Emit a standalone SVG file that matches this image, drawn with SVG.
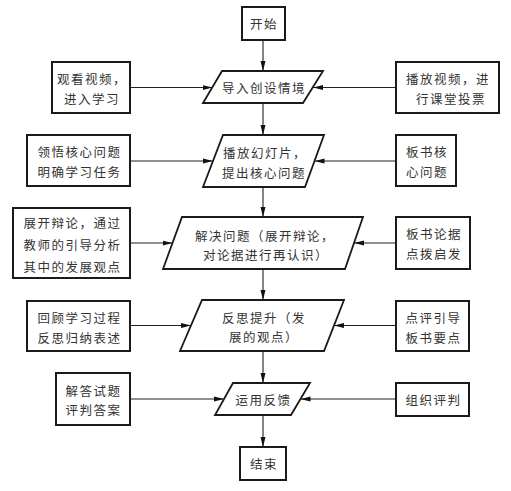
<svg xmlns="http://www.w3.org/2000/svg" width="511" height="491" viewBox="0 0 511 491">
<style>
.box{fill:#fff;stroke:#1a1a1a;stroke-width:2}
.para{fill:#fff;stroke:#1a1a1a;stroke-width:1.8}
.conn line{stroke:#222;stroke-width:1.1}
text{font-family:"Noto Sans CJK SC","Noto Sans CJK JP",sans-serif;font-size:12.5px;letter-spacing:1.5px;fill:#333;text-anchor:middle;dominant-baseline:central}
</style>
<defs>
<marker id="ah" markerUnits="userSpaceOnUse" markerWidth="10" markerHeight="6" refX="10" refY="3" orient="auto">
<path d="M0,0.5 L10,3 L0,5.5 z" fill="#111"/>
</marker>
</defs>
<rect width="511" height="491" fill="#fff"/>
<g class="conn">
<line x1="263" y1="40" x2="263" y2="71" marker-end="url(#ah)"/>
<line x1="263" y1="103" x2="263" y2="135" marker-end="url(#ah)"/>
<line x1="263" y1="187" x2="263" y2="217" marker-end="url(#ah)"/>
<line x1="263" y1="269" x2="263" y2="300" marker-end="url(#ah)"/>
<line x1="263" y1="351" x2="263" y2="383" marker-end="url(#ah)"/>
<line x1="263" y1="415" x2="263" y2="447" marker-end="url(#ah)"/>
<line x1="130" y1="87.5" x2="212.5" y2="87.5" marker-end="url(#ah)"/>
<line x1="130" y1="161" x2="213" y2="161" marker-end="url(#ah)"/>
<line x1="130" y1="243" x2="172.5" y2="243" marker-end="url(#ah)"/>
<line x1="130" y1="325.5" x2="191" y2="325.5" marker-end="url(#ah)"/>
<line x1="130" y1="399" x2="224" y2="399" marker-end="url(#ah)"/>
<line x1="396" y1="87.5" x2="313" y2="87.5" marker-end="url(#ah)"/>
<line x1="396" y1="161" x2="314.5" y2="161" marker-end="url(#ah)"/>
<line x1="396" y1="243" x2="354" y2="243" marker-end="url(#ah)"/>
<line x1="396" y1="325.5" x2="334" y2="325.5" marker-end="url(#ah)"/>
<line x1="396" y1="399" x2="300.5" y2="399" marker-end="url(#ah)"/>
</g>
<g id="start"><rect class="box" x="242" y="7" width="43" height="33"/><text x="264" y="23.5">开始</text></g>
<g id="p1"><polygon class="para" points="222,71 323,71 303,103 203,103"/><text x="264" y="87.5">导入创设情境</text></g>
<g id="l1"><rect class="box" x="52" y="62" width="78" height="51"/><text x="92" y="78">观看视频，</text><text x="92" y="98">进入学习</text></g>
<g id="r1"><rect class="box" x="396" y="62" width="103" height="51"/><text x="448" y="78">播放视频，进</text><text x="451" y="98">行课堂投票</text></g>
<g id="p2"><polygon class="para" points="223,135 324,135 305,187 203,187"/><text x="265" y="152">播放幻灯片，</text><text x="264" y="172">提出核心问题</text></g>
<g id="l2"><rect class="box" x="27" y="135" width="103" height="51"/><text x="79.5" y="151">领悟核心问题</text><text x="79.5" y="171">明确学习任务</text></g>
<g id="r2"><rect class="box" x="396" y="135" width="60" height="51"/><text x="427" y="151">板书核</text><text x="427" y="171">心问题</text></g>
<g id="p3"><polygon class="para" points="182,217 363,217 345,269 163,269"/><text x="265" y="235">解决问题（展开辩论，</text><text x="266" y="254">对论据进行再认识）</text></g>
<g id="l3"><rect class="box" x="13" y="208" width="117" height="70"/><text x="72.5" y="222">展开辩论，通过</text><text x="72.5" y="244">教师的引导分析</text><text x="72.5" y="266">其中的发展观点</text></g>
<g id="r3"><rect class="box" x="396" y="217" width="74" height="52"/><text x="434" y="233">板书论据</text><text x="434" y="253">点拨启发</text></g>
<g id="p4"><polygon class="para" points="202,300 344,300 324,351 180,351"/><text x="264" y="317">反思提升（发</text><text x="264" y="336">展的观点）</text></g>
<g id="l4"><rect class="box" x="27" y="301" width="103" height="50"/><text x="79.5" y="317">回顾学习过程</text><text x="79.5" y="337">反思归纳表述</text></g>
<g id="r4"><rect class="box" x="396" y="301" width="73" height="50"/><text x="433.5" y="317">点评引导</text><text x="433.5" y="337">板书要点</text></g>
<g id="p5"><polygon class="para" points="233,383 310,383 291,415 215,415"/><text x="263.5" y="399">运用反馈</text></g>
<g id="l5"><rect class="box" x="56" y="373" width="74" height="52"/><text x="93.5" y="390">解答试题</text><text x="93.5" y="409">评判答案</text></g>
<g id="r5"><rect class="box" x="396" y="383" width="73" height="33"/><text x="433.5" y="399.5">组织评判</text></g>
<g id="end"><rect class="box" x="240" y="447" width="46" height="33"/><text x="264" y="463.5">结束</text></g>
</svg>
